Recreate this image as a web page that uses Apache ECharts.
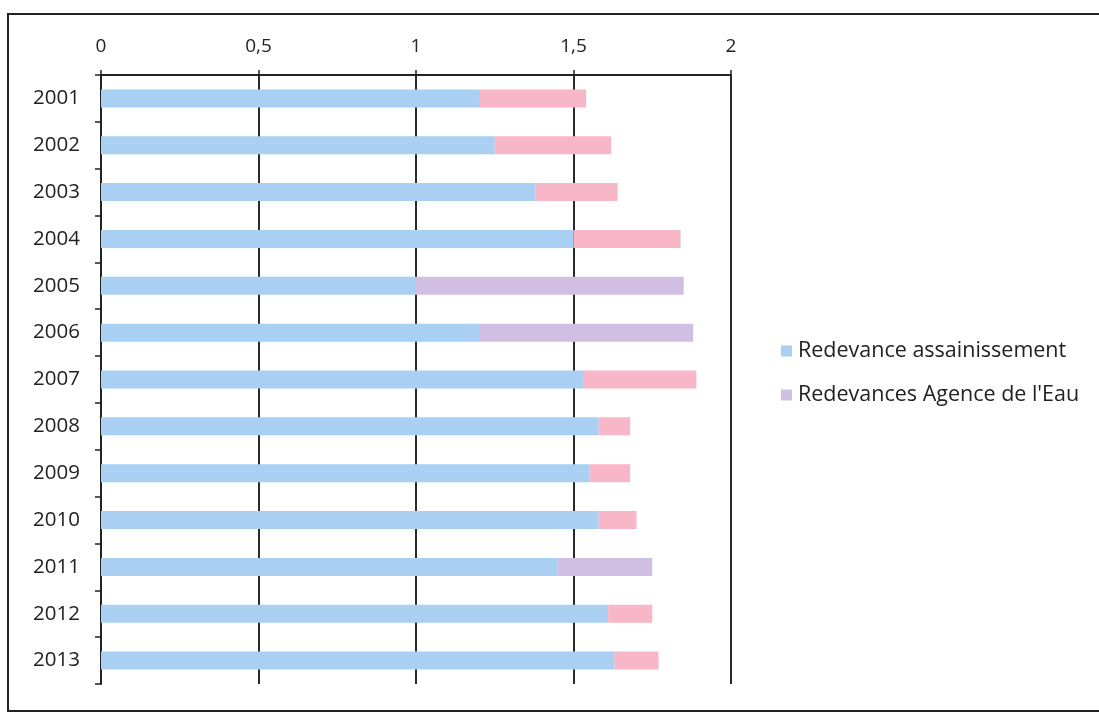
<!DOCTYPE html>
<html>
<head>
<meta charset="utf-8">
<style>
  html, body { margin: 0; padding: 0; background: #fff; }
  #chart { width: 1099px; height: 713px; }
</style>
<script src="https://cdn.jsdelivr.net/npm/echarts@6/dist/echarts.min.js"></script>
</head>
<body>
<div id="chart"></div>
<script>
// Years shown on the category axis, top to bottom
const years = ['2001', '2002', '2003', '2004', '2005', '2006', '2007',
               '2008', '2009', '2010', '2011', '2012', '2013'];

// Redevance assainissement (€/m³)
const assainissement = [1.20, 1.25, 1.38, 1.50, 1.00, 1.20, 1.53,
                        1.58, 1.55, 1.58, 1.45, 1.61, 1.63];

// Redevances Agence de l'Eau (€/m³)
const agenceEau = [0.34, 0.37, 0.26, 0.34, 0.85, 0.68, 0.36,
                   0.10, 0.13, 0.12, 0.30, 0.14, 0.14];

// Value axis ticks
const xTicks = [0, 0.5, 1, 1.5, 2];

const seriesNames = ['Redevance assainissement', "Redevances Agence de l'Eau"];

// Colours
const BLUE = '#a9cff3';
const PINK = '#f8b6c9';
const LAVENDER = '#d0bfe2';
// Years whose agency segment is printed in lavender rather than pink
const lavenderYears = ['2005', '2006', '2011'];

const FONT = '"Open Sans", "Liberation Sans", sans-serif';

const chart = echarts.init(document.getElementById('chart'), null, { renderer: 'canvas' });

const fmt = v => String(v).replace('.', ',');

chart.setOption({
  animation: false,
  backgroundColor: '#ffffff',
  grid: { left: 101, right: 368, top: 75, bottom: 29, containLabel: false },
  graphic: [{
    type: 'rect',
    shape: { x: 8, y: 14, width: 1100, height: 697 },
    style: { fill: 'none', stroke: '#222', lineWidth: 2 },
    silent: true
  }],
  legend: {
    orient: 'vertical',
    left: 776,
    top: 335,
    itemGap: 22,
    itemWidth: 11,
    itemHeight: 11,
    icon: 'rect',
    textStyle: { fontFamily: FONT, fontSize: 21.5, color: '#222', padding: [0, 0, 0, 1] },
    data: [
      { name: seriesNames[0], itemStyle: { color: BLUE } },
      { name: seriesNames[1], itemStyle: { color: LAVENDER } }
    ]
  },
  xAxis: {
    type: 'value',
    position: 'top',
    min: xTicks[0],
    max: xTicks[xTicks.length - 1],
    interval: 0.5,
    axisLine: { show: true, lineStyle: { color: '#222', width: 2 } },
    axisTick: { show: true, length: 5, lineStyle: { color: '#222', width: 1.5 } },
    splitLine: { show: true, lineStyle: { color: '#2a2a2a', width: 2 } },
    axisLabel: {
      margin: 19,
      fontFamily: FONT,
      fontSize: 19,
      color: '#222',
      formatter: fmt
    }
  },
  yAxis: {
    type: 'category',
    inverse: true,
    data: years,
    axisLine: { show: true, lineStyle: { color: '#222', width: 2 } },
    axisTick: { show: true, length: 6, lineStyle: { color: '#222', width: 1.5 } },
    axisLabel: {
      margin: 21,
      fontFamily: FONT,
      fontSize: 20.5,
      color: '#222'
    }
  },
  series: [
    {
      name: seriesNames[0],
      type: 'bar',
      stack: 'prix',
      barWidth: 18,
      itemStyle: { color: BLUE },
      data: assainissement
    },
    {
      name: seriesNames[1],
      type: 'bar',
      stack: 'prix',
      barWidth: 18,
      color: LAVENDER,
      itemStyle: {
        color: p => lavenderYears.includes(years[p.dataIndex]) ? LAVENDER : PINK
      },
      data: agenceEau
    }
  ]
});
</script>
</body>
</html>
